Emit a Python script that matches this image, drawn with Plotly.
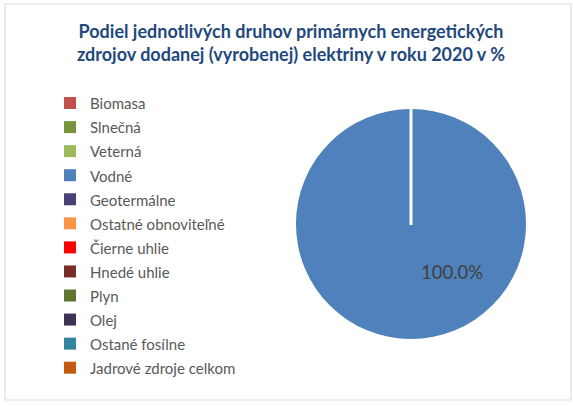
import plotly.graph_objects as go

# Podiel zdrojov dodanej elektriny v roku 2020 (%)
labels = ["Biomasa", "Slnečná", "Veterná", "Vodné", "Geotermálne",
          "Ostatné obnoviteľné", "Čierne uhlie", "Hnedé uhlie", "Plyn",
          "Olej", "Ostané fosílne", "Jadrové zdroje celkom"]
values = [0, 0, 0, 100.0, 0, 0, 0, 0, 0, 0, 0, 0]
colors = ["#C0504D", "#77933C", "#9BBB59", "#4F81BD", "#4B3F7A",
          "#F79646", "#FF0000", "#772C2A", "#5F7530", "#3F3151",
          "#31859C", "#C55A11"]

W, H = 573, 406
total = sum(values)

# legend text smaller than legend font so rows are spaced like in the original
legend_labels = ['<span style="font-size:15px">%s</span>' % l for l in labels]

fig = go.Figure(go.Pie(
    labels=legend_labels,
    values=values,
    marker=dict(colors=colors, line=dict(color="white", width=0)),
    sort=False,
    direction="clockwise",
    rotation=0,
    textinfo="none",
    domain=dict(x=[296 / W, 526 / W], y=[1 - 339 / H, 1 - 109 / H]),
))

# percentage label of the largest slice
big = values.index(max(values))
fig.add_annotation(
    x=452 / W, y=1 - 272 / H, xref="paper", yref="paper",
    xanchor="center", yanchor="middle",
    text="%.1f%%" % (100 * values[big] / total), showarrow=False,
    font=dict(family="Lato, Arial", size=18.5, color="#404040"),
)

# white slice edge at 12 o'clock
fig.add_shape(type="line", xref="paper", yref="paper",
              x0=411 / W, x1=411 / W, y0=1 - 225 / H, y1=1 - 109 / H,
              line=dict(color="white", width=3))

# outer chart frame
fig.add_shape(type="rect", xref="paper", yref="paper",
              x0=5 / W, x1=571 / W, y0=1 - 400 / H, y1=1 - 4 / H,
              line=dict(color="#D9D9D9", width=1))

fig.update_layout(
    width=W, height=H,
    margin=dict(l=0, r=0, t=0, b=0),
    paper_bgcolor="white",
    title=dict(
        text="Podiel jednotlivých druhov primárnych energetických<br>"
             "zdrojov dodanej (vyrobenej) elektriny v roku 2020 v %",
        x=291 / W, xanchor="center", y=1 - 38 / H, yanchor="middle",
        font=dict(family="Lato, Arial", size=18, color="#1F497D", weight="bold"),
    ),
    legend=dict(
        x=50 / W, xanchor="left", y=1 - 86 / H, yanchor="top",
        font=dict(family="Lato, Arial", size=16.2, color="#595959"),
        bgcolor="rgba(0,0,0,0)",
    ),
)

fig.write_html("out.html", config={"displayModeBar": False},
               post_script="document.body.style.margin='0';")
